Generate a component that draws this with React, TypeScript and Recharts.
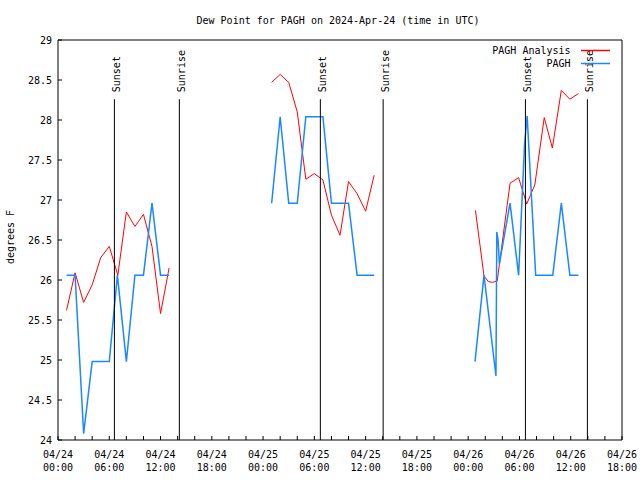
import { LineChart, Line, XAxis, YAxis, ReferenceLine, Legend } from "recharts";

// hours since 2024-04-24 00:00 UTC; null breaks the line between days
const analysisHours = [
  1, 2, 3, 4, 5, 6, 7, 8, 9, 10, 11, 12, 13,
  20,
  25, 26, 27, 28, 29, 30, 31, 32, 33, 34, 35, 36, 37,
  44,
  48.85, 49.85, 50.36, 50.87, 51.4, 52.9, 53.9, 54.85, 55.8, 56.9, 57.85, 58.9, 59.9, 60.9,
];
const analysisValues = [
  25.62, 26.09, 25.72, 25.94, 26.28, 26.42, 26.06, 26.85, 26.67, 26.82, 26.42, 25.58, 26.15,
  null,
  28.47, 28.57, 28.47, 28.1, 27.26, 27.33, 27.25, 26.81, 26.56, 27.23, 27.08, 26.86, 27.31,
  null,
  26.87, 26.05, 25.98, 25.97, 25.99, 27.21, 27.28, 26.95, 27.19, 28.03, 27.65, 28.37, 28.26, 28.33,
];

const obsHours = [
  1, 2, 3, 4, 5, 6, 6.95, 8, 9, 10, 11, 12, 13,
  20,
  25, 26, 27, 28, 29, 30, 31, 32, 33, 34, 35, 36, 37,
  44,
  48.8, 49.85, 51.25, 51.35, 51.5, 51.65, 52.9, 53.9, 54.3, 54.6, 54.9, 55.9, 57.9, 58.9, 59.9, 60.9,
];
const obsValues = [
  26.06, 26.06, 24.08, 24.98, 24.98, 24.98, 26.06, 24.98, 26.06, 26.06, 26.96, 26.06, 26.06,
  null,
  26.96, 28.04, 26.96, 26.96, 28.04, 28.04, 28.04, 26.96, 26.96, 26.96, 26.06, 26.06, 26.06,
  null,
  24.98, 26.06, 24.8, 26.6, 26.5, 26.2, 26.96, 26.06, 27.0, 27.7, 28.05, 26.06, 26.06, 26.96, 26.06, 26.06,
];

const sunNames = ["Sunset", "Sunrise", "Sunset", "Sunrise", "Sunset", "Sunrise"];
const sunHours = [6.6, 14.2, 30.7, 38.05, 54.7, 61.95];

const xTickHours = [0, 2, 4, 6, 8, 10, 12, 14, 16, 18, 20, 22, 24, 26, 28, 30, 32, 34, 36, 38, 40, 42, 44, 46, 48, 50, 52, 54, 56, 58, 60, 62, 64, 66];
const xLabelHours = [0, 6, 12, 18, 24, 30, 36, 42, 48, 54, 60, 66];
const xLabelDates = ["04/24", "04/24", "04/24", "04/24", "04/25", "04/25", "04/25", "04/25", "04/26", "04/26", "04/26", "04/26"];
const xLabelTimes = ["00:00", "06:00", "12:00", "18:00", "00:00", "06:00", "12:00", "18:00", "00:00", "06:00", "12:00", "18:00"];
const yTicks = [24, 24.5, 25, 25.5, 26, 26.5, 27, 27.5, 28, 28.5, 29];
const legendOrder = ["PAGH Analysis", "PAGH"];

const analysisData = analysisHours.map((h, i) => ({ h, v: analysisValues[i] }));
const obsData = obsHours.map((h, i) => ({ h, v: obsValues[i] }));

const FONT = "'DejaVu Sans Mono', monospace";
const RED = "#ff0000";
const BLUE = "#1a88ff";

function XTick(props: any) {
  const { x, y, payload } = props;
  const i = xLabelHours.indexOf(payload.value);
  if (i < 0) return <g />;
  return (
    <text x={x} y={y} textAnchor="middle" fontSize={10} fill="#000" fontFamily={FONT}>
      <tspan x={x} dy={0}>{xLabelDates[i]}</tspan>
      <tspan x={x} dy={13}>{xLabelTimes[i]}</tspan>
    </text>
  );
}

function sunLabel(text: string) {
  return (p: any) => {
    const vb = p.viewBox || {};
    const x0 = vb.x + 6;
    const y0 = vb.y - 7;
    return (
      <text x={x0} y={y0} transform={`rotate(-90 ${x0} ${y0})`} textAnchor="start" fontSize={10} fill="#000" fontFamily={FONT}>
        {text}
      </text>
    );
  };
}

function renderLegend(props: any) {
  const items = [...(props.payload || [])].sort(
    (a: any, b: any) => legendOrder.indexOf(a.value) - legendOrder.indexOf(b.value)
  );
  return (
    <div style={{ fontFamily: FONT, fontSize: 10, color: "#000" }}>
      {items.map((it: any) => (
        <div key={it.value} style={{ display: "flex", alignItems: "center", height: 13 }}>
          <span style={{ display: "inline-block", width: 102, textAlign: "right" }}>{it.value}</span>
          <svg width={40} height={13} style={{ marginLeft: 10 }}>
            <line x1={0} x2={29} y1={6.5} y2={6.5} stroke={it.color} strokeWidth={1.5} />
          </svg>
        </div>
      ))}
    </div>
  );
}

export default function App() {
  return (
    <div style={{ position: "absolute", left: 0, top: 0, width: 640, height: 480, background: "#fff", fontFamily: FONT }}>
      <LineChart width={640} height={480} margin={{ top: 39, right: 17, bottom: 39, left: 57 }}>
        <XAxis
          dataKey="h"
          type="number"
          domain={[0, 66]}
          ticks={xTickHours}
          interval={0}
          allowDataOverflow
          height={1}
          tickSize={-4}
          tickMargin={22}
          tick={XTick}
          stroke="#000"
        />
        <XAxis
          xAxisId="top"
          orientation="top"
          dataKey="h"
          type="number"
          domain={[0, 66]}
          ticks={xTickHours}
          interval={0}
          allowDataOverflow
          height={1}
          tickSize={-4}
          tick={false}
          stroke="#000"
          label={{
            content: () => (
              <text x={338} y={24} textAnchor="middle" fontSize={10} fill="#000" fontFamily={FONT}>
                Dew Point for PAGH on 2024-Apr-24 (time in UTC)
              </text>
            ),
          }}
        />
        <YAxis
          type="number"
          domain={[24, 29]}
          ticks={yTicks}
          interval={0}
          allowDataOverflow
          width={1}
          tickSize={-4}
          tickMargin={10}
          tick={{ fontSize: 10, fill: "#000", fontFamily: FONT }}
          stroke="#000"
          label={{
            content: () => (
              <text x={14} y={237} transform="rotate(-90 14 237)" textAnchor="middle" fontSize={10} fill="#000" fontFamily={FONT}>
                degrees F
              </text>
            ),
          }}
        />
        <YAxis
          yAxisId="right"
          orientation="right"
          type="number"
          domain={[24, 29]}
          ticks={yTicks}
          interval={0}
          allowDataOverflow
          width={1}
          tickSize={-4}
          tick={false}
          stroke="#000"
        />
        <Legend
          layout="vertical"
          align="center"
          verticalAlign="middle"
          wrapperStyle={{ position: "absolute", left: 470, top: 44, width: 150, height: 26 }}
          content={renderLegend}
        />
        <Line
          data={analysisData}
          dataKey="v"
          name="PAGH Analysis"
          type="linear"
          stroke={RED}
          strokeWidth={1}
          dot={false}
          activeDot={false}
          isAnimationActive={false}
        />
        <Line
          data={obsData}
          dataKey="v"
          name="PAGH"
          type="linear"
          stroke={BLUE}
          strokeWidth={1.5}
          dot={false}
          activeDot={false}
          isAnimationActive={false}
        />
        {sunHours.map((h, i) => (
          <ReferenceLine
            key={i}
            segment={[{ x: h, y: 24 }, { x: h, y: 28.26 }]}
            stroke="#000"
            strokeWidth={1}
            label={{ content: sunLabel(sunNames[i]) }}
          />
        ))}
      </LineChart>
    </div>
  );
}
